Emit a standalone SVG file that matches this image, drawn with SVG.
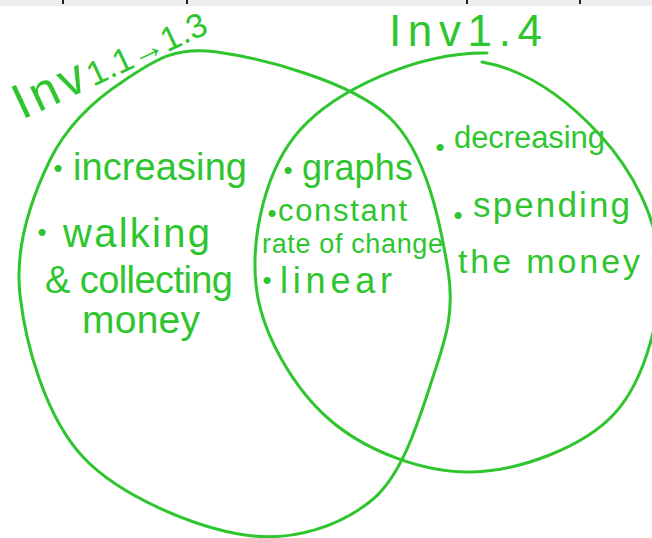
<svg xmlns="http://www.w3.org/2000/svg" width="652" height="538" viewBox="0 0 652 538">
<style>
.ink{fill:none;stroke:#2ec52e;stroke-width:3;stroke-linecap:round;stroke-linejoin:round}
.t{font-family:"Liberation Sans",Arial,sans-serif;fill:#2ec52e}
.b{font-family:"Liberation Sans",Arial,sans-serif;fill:#2ec52e;font-size:26px}
</style>
<rect width="652" height="538" fill="#ffffff"/>
<g id="top-strip">
<rect x="0" y="0" width="652" height="6" fill="#ededed"/>
<path d="M63 0V4M187 0V4M467 0V4M580 0V4" stroke="#222" stroke-width="2"/>
</g>
<g id="set-left">
<path class="ink" d="M217 52 C261 58.2 350.5 80.7 389 117 C427.5 153.3 440.8 226.2 448 270 C455.2 313.8 444.7 341.7 432 380 C419.3 418.3 403.2 474.2 372 500 C340.8 525.8 293.2 542.2 245 535 C196.8 527.8 120.5 497 83 457 C45.5 417 25.5 344.5 20 295 C14.5 245.5 32.5 195.8 50 160 C67.5 124.2 97.2 98 125 80 C152.8 62 173 45.8 217 52 Z"/>
<text class="t" transform="translate(22 120) rotate(-25)"><tspan font-size="50" letter-spacing="4">Inv</tspan><tspan font-size="34">1.1→1.3</tspan></text>
</g>
<g id="set-right">
<path class="ink" d="M482 62 C528 70 567.5 99.7 600 135 C632.5 170.3 657.5 218.7 660 265 C662.5 311.3 646.3 378.5 615 413 C583.7 447.5 519.5 470.8 472 472 C424.5 473.2 366 451.2 330 420 C294 388.8 261 333.3 256 285 C251 236.7 265.2 168.7 300 130 C334.8 91.3 415 52.2 487 53"/>
<text class="t" x="389" y="46" font-size="44" textLength="153" lengthAdjust="spacing">Inv1.4</text>
</g>
<g id="item-increasing">
<text class="b" x="53.4" y="177.2">•</text>
<text class="t" x="73" y="180" font-size="38" textLength="174" lengthAdjust="spacing">increasing</text>
</g>
<g id="item-walking">
<text class="b" x="37.4" y="241.2">•</text>
<text class="t" x="63" y="247" font-size="40" textLength="147" lengthAdjust="spacing">walking</text>
<text class="t" x="45" y="293" font-size="38" textLength="188" lengthAdjust="spacing">&amp; collecting</text>
<text class="t" x="82" y="333" font-size="39" textLength="118" lengthAdjust="spacing">money</text>
</g>
<g id="item-graphs">
<text class="b" x="283.4" y="179.2">•</text>
<text class="t" x="302" y="180" font-size="36" textLength="111" lengthAdjust="spacing">graphs</text>
</g>
<g id="item-constant">
<text class="b" x="267.4" y="221.5">•</text>
<text class="t" x="278" y="221" font-size="31" textLength="129" lengthAdjust="spacing">constant</text>
<text class="t" x="262" y="253" font-size="27" textLength="181" lengthAdjust="spacing">rate of change</text>
</g>
<g id="item-linear">
<text class="b" x="262.4" y="289.2">•</text>
<text class="t" x="280" y="293" font-size="36" textLength="112" lengthAdjust="spacing">linear</text>
</g>
<g id="item-decreasing">
<text class="b" x="435.4" y="156.2">•</text>
<text class="t" x="454" y="148" font-size="31" textLength="151" lengthAdjust="spacing">decreasing</text>
</g>
<g id="item-spending">
<text class="b" x="453.4" y="224.2">•</text>
<text class="t" x="473" y="217" font-size="35" textLength="157" lengthAdjust="spacing">spending</text>
<text class="t" x="458" y="273" font-size="34" textLength="182" lengthAdjust="spacing">the money</text>
</g>
</svg>
